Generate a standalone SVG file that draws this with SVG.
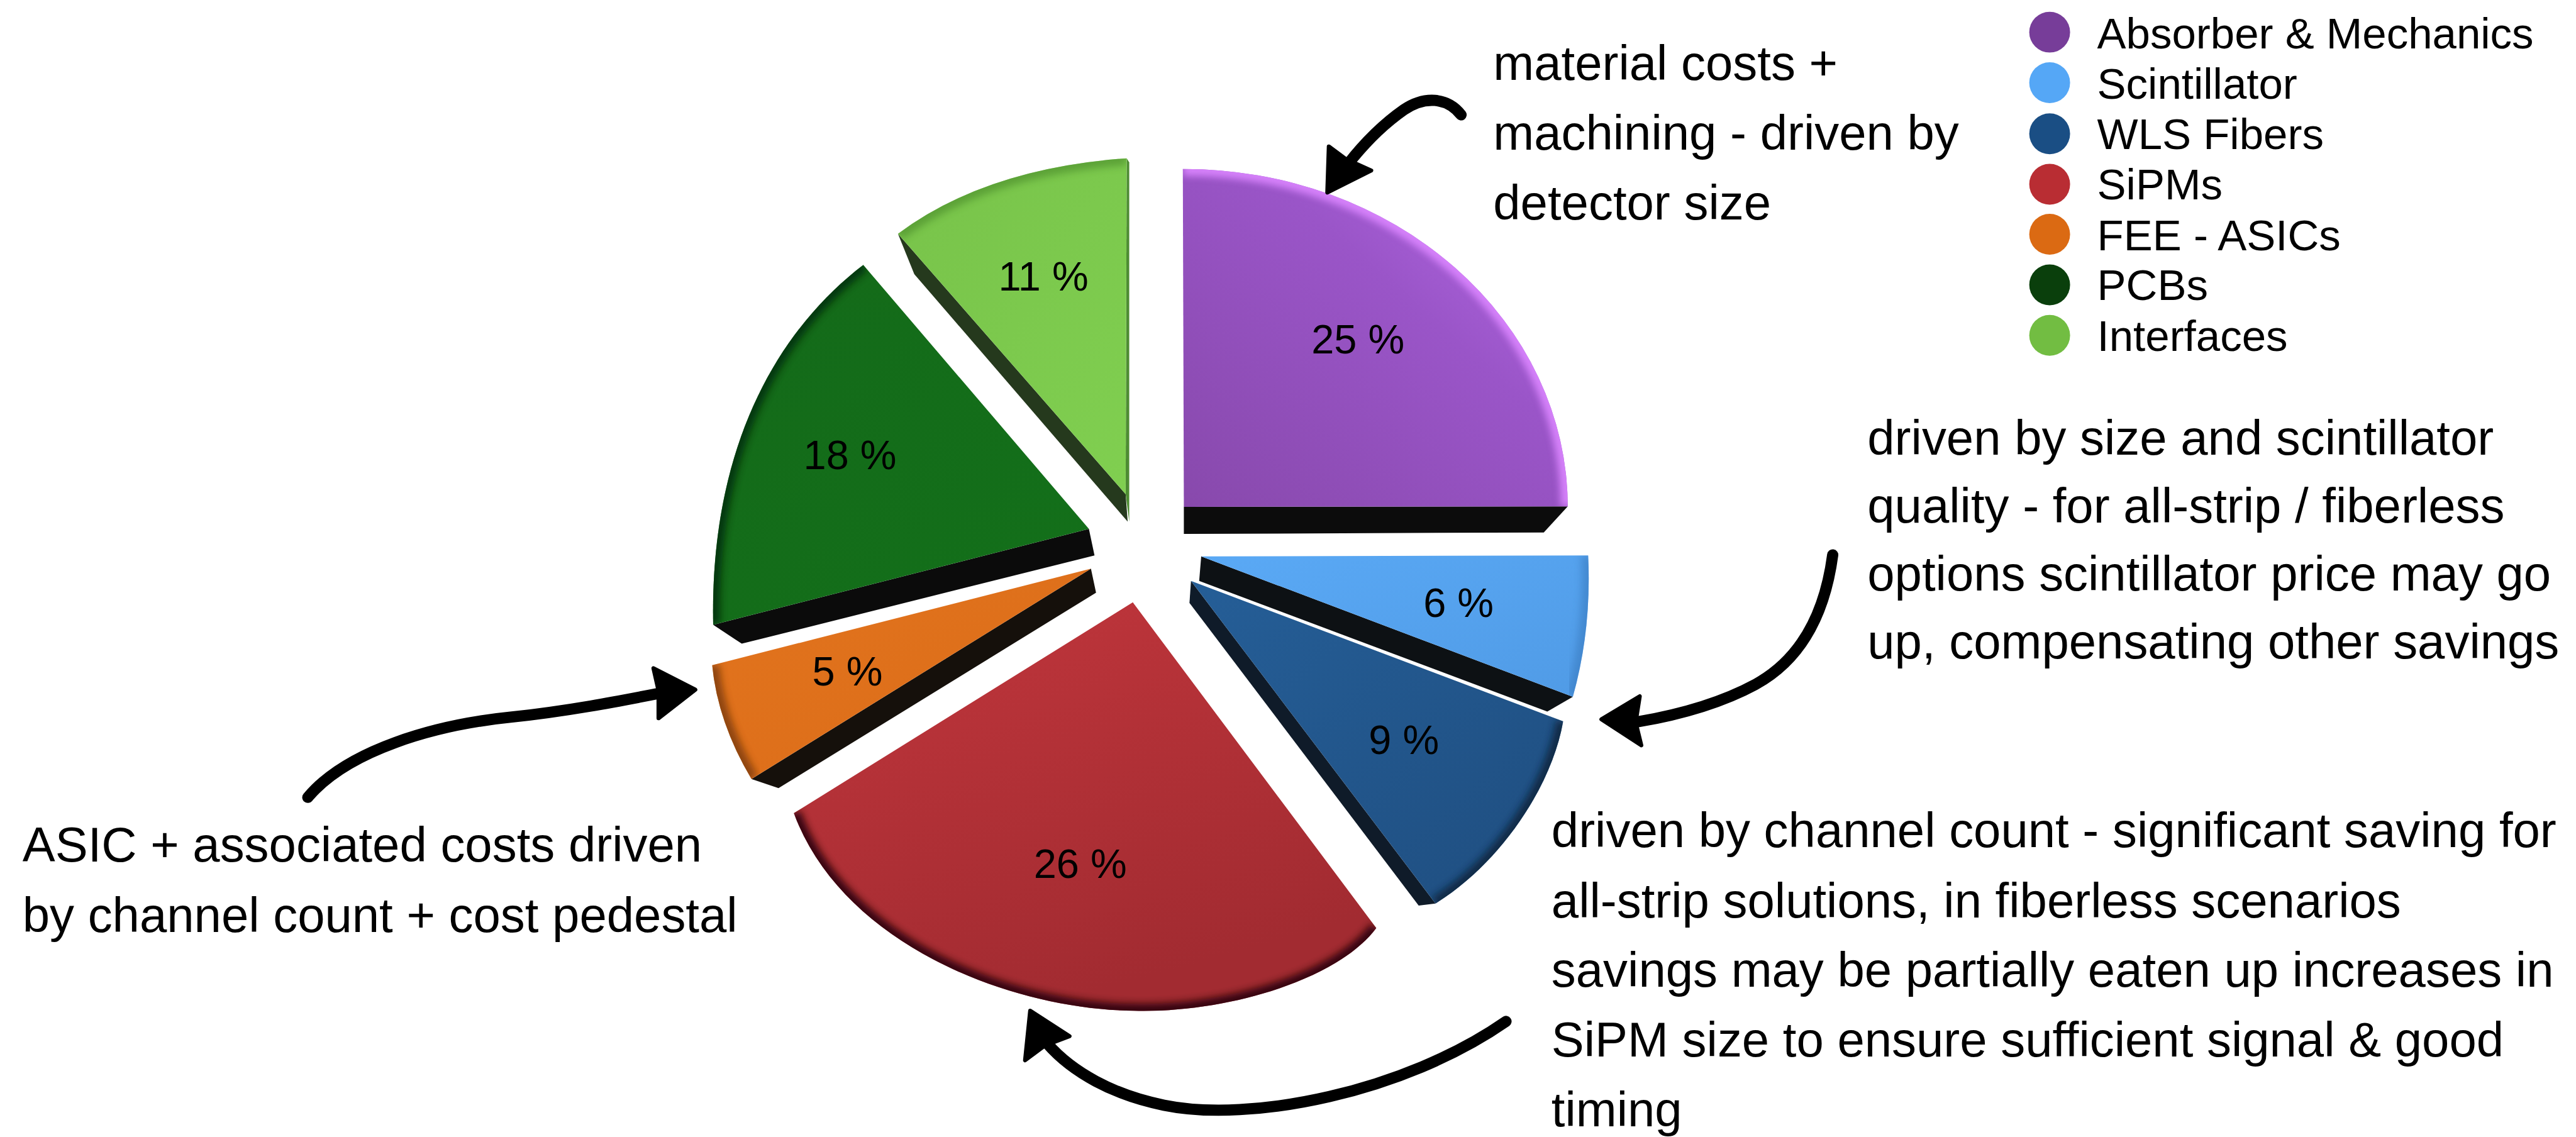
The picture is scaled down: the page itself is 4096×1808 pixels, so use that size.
<svg xmlns="http://www.w3.org/2000/svg" width="4096" height="1808" viewBox="0 0 4096 1808">
<defs>
<style>
.t{font-family:"Liberation Sans",Arial,Helvetica,sans-serif;fill:#000}
.ann{font-size:96px}
.pct{font-size:80px;text-anchor:middle}
.leg{font-size:85px}
.rim{fill:none;stroke-width:28;filter:url(#soft)}
.shaft{fill:none;stroke:#000;stroke-width:22;stroke-linecap:round;stroke-linejoin:round}
.head{fill:#000;stroke:#000;stroke-width:8;stroke-linejoin:round}
</style>
<filter id="soft" x="-20%" y="-20%" width="140%" height="140%"><feGaussianBlur stdDeviation="7"/></filter>
<linearGradient id="gPurple" x1="0" y1="1" x2="1" y2="0"><stop offset="0" stop-color="#8849AC"/><stop offset="0.6" stop-color="#9A55C8"/><stop offset="1" stop-color="#B86CEB"/></linearGradient>
<linearGradient id="gLBlue" x1="0" y1="0" x2="1" y2="1"><stop offset="0" stop-color="#5AA9F5"/><stop offset="1" stop-color="#509BE6"/></linearGradient>
<linearGradient id="gDBlue" x1="0" y1="0" x2="1" y2="1"><stop offset="0" stop-color="#255E97"/><stop offset="1" stop-color="#1F4E80"/></linearGradient>
<linearGradient id="gRed" x1="0" y1="0" x2="0.4" y2="1"><stop offset="0" stop-color="#C1363C"/><stop offset="1" stop-color="#A22B31"/></linearGradient>
<linearGradient id="gOrange" x1="0" y1="0" x2="1" y2="1"><stop offset="0" stop-color="#E2741E"/><stop offset="1" stop-color="#DB6C18"/></linearGradient>
<linearGradient id="gDGreen" x1="0" y1="0" x2="1" y2="1"><stop offset="0" stop-color="#146A19"/><stop offset="1" stop-color="#13701A"/></linearGradient>
<linearGradient id="gLGreen" x1="0" y1="0" x2="1" y2="1"><stop offset="0" stop-color="#78C34A"/><stop offset="1" stop-color="#80CF50"/></linearGradient>
<clipPath id="cPurple"><path d="M2319,993 L2317,331 A752,662 0 0 1 3071,992 Z"/></clipPath>
<clipPath id="cLBlue"><path d="M2353,1090 L3111,1088 Q3118,1233 3081,1365 Z"/></clipPath>
<clipPath id="cDBlue"><path d="M2333,1138 L3062,1413 C3040,1540 2940,1690 2812,1770 Z"/></clipPath>
<clipPath id="cRed"><path d="M2219,1180 L2696,1818 C2620,1920 2400,1985 2221,1980 C1980,1978 1650,1850 1555,1593 Z"/></clipPath>
<clipPath id="cOrange"><path d="M2137,1114 L1395,1303 Q1406,1415 1472,1526 Z"/></clipPath>
<clipPath id="cDGreen"><path d="M2133,1036 L1691,519 C1520,650 1390,880 1397,1224 Z"/></clipPath>
<clipPath id="cLGreen"><path d="M2205,968 L1759,458 Q1930,330 2207,310 Z"/></clipPath>
</defs>
<rect width="4096" height="1808" fill="#ffffff"/>
<g transform="scale(0.81173)">

<g id="slice-absorber">
<path d="M2319,993 L3071,992 L3024,1043 L2319,1046 Z" fill="#0c0c0c"/>
<path d="M2319,993 L2317,331 A752,662 0 0 1 3071,992 Z" fill="url(#gPurple)"/>
<path class="rim" clip-path="url(#cPurple)" d="M2317,331 A752,662 0 0 1 3071,992" stroke="#DC86FF" opacity="0.9"/>
<text class="t pct" x="2660" y="692">25 %</text>
</g>

<g id="slice-scintillator">
<path d="M2353,1090 L3081,1365 L3031,1394 L2349,1138 Z" fill="#0d1114"/>
<path d="M2353,1090 L3111,1088 Q3118,1233 3081,1365 Z" fill="url(#gLBlue)"/>
<path class="rim" clip-path="url(#cLBlue)" d="M3111,1088 Q3118,1233 3081,1365" stroke="#3a7cc0" opacity="0.6"/>
<text class="t pct" x="2857" y="1209">6 %</text>
</g>

<g id="slice-wls">
<path d="M2333,1138 L2812,1770 L2779,1774 L2330,1181 Z" fill="#0f1b29"/>
<path d="M2333,1138 L3062,1413 C3040,1540 2940,1690 2812,1770 Z" fill="url(#gDBlue)"/>
<path class="rim" clip-path="url(#cDBlue)" d="M3062,1413 C3040,1540 2940,1690 2812,1770" stroke="#0c2038" opacity="0.8"/>
<text class="t pct" x="2750" y="1477">9 %</text>
</g>

<g id="slice-sipms">
<path d="M2219,1180 L2696,1818 C2620,1920 2400,1985 2221,1980 C1980,1978 1650,1850 1555,1593 Z" fill="url(#gRed)"/>
<path class="rim" clip-path="url(#cRed)" d="M2696,1818 C2620,1920 2400,1985 2221,1980 C1980,1978 1650,1850 1555,1593" stroke="#2a0608" opacity="0.9"/>
<text class="t pct" x="2116" y="1720">26 %</text>
</g>

<g id="slice-fee">
<path d="M2137,1114 L1472,1526 L1525,1544 L2147,1161 Z" fill="#15100b"/>
<path d="M2137,1114 L1395,1303 Q1406,1415 1472,1526 Z" fill="url(#gOrange)"/>
<path class="rim" clip-path="url(#cOrange)" d="M1395,1303 Q1406,1415 1472,1526" stroke="#7a3a0c" opacity="0.8"/>
<text class="t pct" x="1660" y="1343">5 %</text>
</g>

<g id="slice-pcbs">
<path d="M2133,1036 L1397,1224 L1453,1261 L2144,1088 Z" fill="#0b0b0b"/>
<path d="M2133,1036 L1691,519 C1520,650 1390,880 1397,1224 Z" fill="url(#gDGreen)"/>
<path class="rim" clip-path="url(#cDGreen)" d="M1691,519 C1520,650 1390,880 1397,1224" stroke="#062a08" opacity="0.8"/>
<text class="t pct" x="1665" y="919">18 %</text>
</g>

<g id="slice-interfaces">
<path d="M1759,458 L2205,968 L2209,1022 L1791,537 Z" fill="#25391d"/>
<path d="M2207,310 L2212,318 L2212,1022 L2205,968 Z" fill="#4e8c33"/>
<path d="M2205,968 L1759,458 Q1930,330 2207,310 Z" fill="url(#gLGreen)"/>
<path class="rim" clip-path="url(#cLGreen)" d="M1759,458 Q1930,330 2207,310" stroke="#4a8a2c" opacity="0.6"/>
<text class="t pct" x="2044" y="569">11 %</text>
</g>

<g id="connectors">
<path class="shaft" d="M2862,225 C2835,190 2790,188 2750,215 C2700,250 2665,290 2640,322"/>
<path class="head" d="M2600,377 L2603,287 L2637,312 L2686,334 Z"/>
<path class="shaft" d="M3590,1087 C3575,1200 3530,1290 3440,1340 C3370,1378 3290,1400 3208,1414"/>
<path class="head" d="M3137,1409 L3212,1364 L3204,1415 L3215,1460 Z"/>
<path class="shaft" d="M2950,2001 C2750,2140 2450,2200 2280,2165 C2180,2145 2100,2100 2052,2045"/>
<path class="head" d="M2018,1980 L2095,2030 L2047,2048 L2008,2077 Z"/>
<path class="shaft" d="M603,1562 C680,1470 850,1420 1000,1405 C1120,1392 1220,1372 1292,1358"/>
<path class="head" d="M1362,1351 L1280,1309 L1290,1353 L1290,1407 Z"/>
</g>

<g id="note-absorber" class="t ann">
<text x="2925" y="156">material costs +</text>
<text x="2925" y="293">machining - driven by</text>
<text x="2925" y="430">detector size</text>
</g>
<g id="note-scintillator" class="t ann">
<text x="3658" y="891">driven by size and scintillator</text>
<text x="3658" y="1024">quality - for all-strip / fiberless</text>
<text x="3658" y="1157">options scintillator price may go</text>
<text x="3658" y="1290">up, compensating other savings</text>
</g>
<g id="note-sipms" class="t ann">
<text x="3039" y="1660">driven by channel count - significant saving for</text>
<text x="3039" y="1797">all-strip solutions, in fiberless scenarios</text>
<text x="3039" y="1933">savings may be partially eaten up increases in</text>
<text x="3039" y="2070">SiPM size to ensure sufficient signal &amp; good</text>
<text x="3039" y="2207">timing</text>
</g>
<g id="note-fee" class="t ann">
<text x="44" y="1688">ASIC + associated costs driven</text>
<text x="44" y="1826">by channel count + cost pedestal</text>
</g>

<g id="legend">
<g id="legend-absorber"><circle cx="4015" cy="63" r="40" fill="#773D99"/><text class="t leg" x="4108" y="95">Absorber &amp; Mechanics</text></g>
<g id="legend-scintillator"><circle cx="4015" cy="162" r="40" fill="#55A7F6"/><text class="t leg" x="4108" y="193">Scintillator</text></g>
<g id="legend-wls"><circle cx="4015" cy="262" r="40" fill="#1A4E84"/><text class="t leg" x="4108" y="292">WLS Fibers</text></g>
<g id="legend-sipms"><circle cx="4015" cy="361" r="40" fill="#B92D33"/><text class="t leg" x="4108" y="391">SiPMs</text></g>
<g id="legend-fee"><circle cx="4015" cy="459" r="40" fill="#DB6A13"/><text class="t leg" x="4108" y="490">FEE - ASICs</text></g>
<g id="legend-pcbs"><circle cx="4015" cy="558" r="40" fill="#0A3F0C"/><text class="t leg" x="4108" y="588">PCBs</text></g>
<g id="legend-interfaces"><circle cx="4015" cy="657" r="40" fill="#72BD42"/><text class="t leg" x="4108" y="688">Interfaces</text></g>
</g>

</g>
</svg>
